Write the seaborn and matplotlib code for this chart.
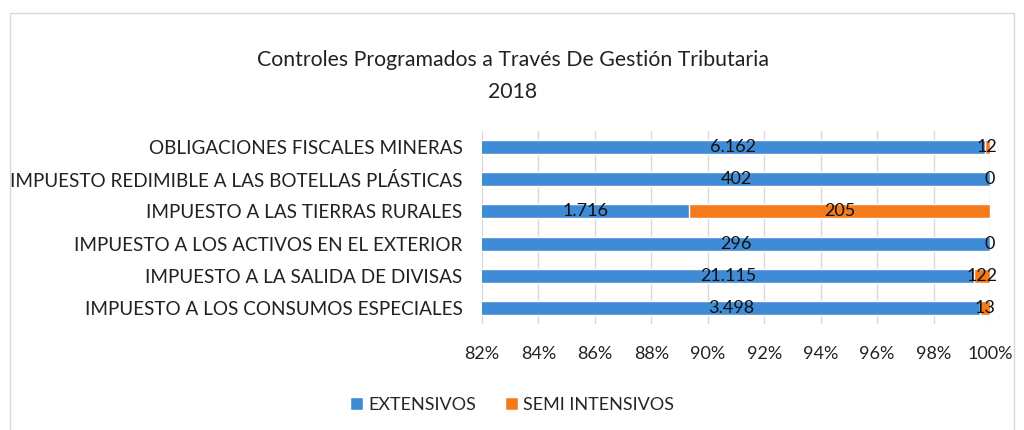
import pandas as pd
import numpy as np
import matplotlib
matplotlib.use("Agg")
import matplotlib.pyplot as plt
import seaborn as sns
from matplotlib.patches import Rectangle, Patch

# data
categorias = [
    "OBLIGACIONES FISCALES MINERAS",
    "IMPUESTO REDIMIBLE A LAS BOTELLAS PLÁSTICAS",
    "IMPUESTO A LAS TIERRAS RURALES",
    "IMPUESTO A LOS ACTIVOS EN EL EXTERIOR",
    "IMPUESTO A LA SALIDA DE DIVISAS",
    "IMPUESTO A LOS CONSUMOS ESPECIALES",
]
extensivos = [6162, 402, 1716, 296, 21115, 3498]
semi_intensivos = [12, 0, 205, 0, 122, 13]
x_ticks = [82, 84, 86, 88, 90, 92, 94, 96, 98, 100]

df = pd.DataFrame({"cat": categorias, "ext": extensivos, "semi": semi_intensivos})
df["total"] = df["ext"] + df["semi"]
df["ext_pct"] = df["ext"] / df["total"] * 100
df["tot_pct"] = 100.0

blue = "#3f8bd6"
orange = "#f47a1c"

sns.set_theme(style="white")
plt.rcParams["font.family"] = ["Lato", "DejaVu Sans"]

fig = plt.figure(figsize=(10.24, 4.3), dpi=100)
ax = fig.add_axes([482 / 1024, 1 - 324 / 430, 508 / 1024, 193 / 430])

# orange full bar underneath, blue share on top
sns.barplot(data=df, x="tot_pct", y="cat", color=orange, width=0.44,
            orient="h", ax=ax, saturation=1, zorder=2)
sns.barplot(data=df, x="ext_pct", y="cat", color=blue, width=0.44,
            orient="h", ax=ax, saturation=1, zorder=3)

ax.set_xlim(82, 100)
ax.set_xticks(x_ticks)
ax.set_xticklabels([f"{t}%" for t in x_ticks], fontsize=13, color="#222222")
ax.tick_params(axis="x", length=0, pad=16)
ax.tick_params(axis="y", length=0, pad=14, labelsize=13.6, labelcolor="#222222")
ax.set_xlabel("")
ax.set_ylabel("")
ax.set_ylim(5.5, -0.5)
for s in ax.spines.values():
    s.set_visible(False)
ax.grid(axis="x", color="#d9d9d9", linewidth=1, zorder=0)
ax.set_axisbelow(True)

def fmt(v):
    return f"{v:,}".replace(",", ".")

for i, row in df.iterrows():
    ax.text((82 + row["ext_pct"]) / 2, i, fmt(row["ext"]), ha="center",
            va="center", fontsize=13, color="#111111", zorder=5)
    ax.text((row["ext_pct"] + 100) / 2, i, fmt(row["semi"]), ha="center",
            va="center", fontsize=13, color="#111111", zorder=5)

fig.text(0.501, 1 - 60 / 430, "Controles Programados a Través De Gestión Tributaria",
         ha="center", va="center", fontsize=15.3, color="#222222")
fig.text(0.501, 1 - 92 / 430, "2018", ha="center", va="center",
         fontsize=15.3, color="#222222")

handles = [Patch(facecolor=blue, label="EXTENSIVOS"),
           Patch(facecolor=orange, label="SEMI INTENSIVOS")]
fig.legend(handles=handles, loc="center", bbox_to_anchor=(0.5, 1 - 405 / 430),
           ncol=2, frameon=False, fontsize=13, handlelength=0.7,
           handleheight=0.7, handletextpad=0.3, columnspacing=1.6)

fig.patches.append(Rectangle((10 / 1024, -0.05), 1004 / 1024, 1 - 13 / 430 + 0.05,
                             transform=fig.transFigure, fill=False,
                             edgecolor="#d9d9d9", linewidth=1))

fig.savefig("out.png", dpi=100)
